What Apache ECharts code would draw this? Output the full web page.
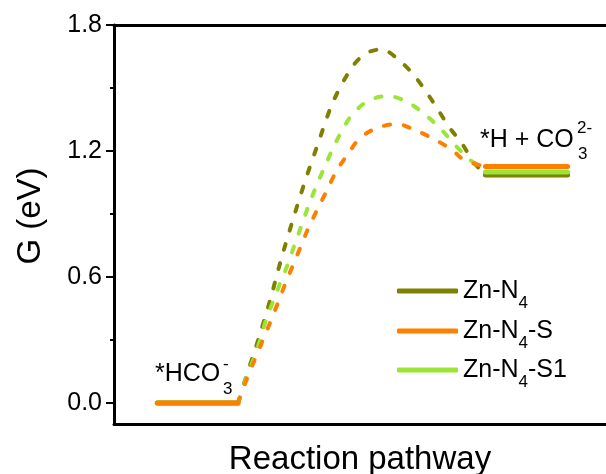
<!DOCTYPE html>
<html>
<head>
<meta charset="utf-8">
<script src="https://cdn.jsdelivr.net/npm/echarts@6/dist/echarts.min.js"></script>
<style>
html,body{margin:0;padding:0;background:#fff;}
#chart{width:606px;height:474px;}
</style>
</head>
<body>
<div id="chart"></div>
<script>
// ---- data ----
const materials = ['Zn-N4', 'Zn-N4-S', 'Zn-N4-S1'];
const materialColors = ['#808000', '#FF8000', '#9BE536'];
const yTickValues = [0.0, 0.6, 1.2, 1.8];
const yMinorTickValues = [0.3, 0.9, 1.5];
// state levels (x extent in reaction-coordinate units 0..100)
const level1X = [8.8, 25.2];   // *HCO3-
const level2X = [75.5, 92.2];  // *H + CO3 2-
const levelStart = [0, 0, 0];
const levelEnd = [1.086, 1.126, 1.100];
// transition curves [x, G]
const curveZnN4 = [[25.2,0],[26.7,0.113],[29.3,0.30],[31.7,0.487],[33.9,0.678],[36.3,0.868],[38.8,1.054],[41.5,1.237],[44.5,1.433],[48.4,1.60],[51.2,1.665],[54.4,1.684],[58.3,1.625],[61.2,1.554],[63.8,1.47],[65.9,1.395],[68.3,1.308],[70.7,1.237],[73.0,1.149],[75.5,1.086]];
const curveZnN4S = [[25.2,0],[27.0,0.114],[28.5,0.2],[30.1,0.29],[31.7,0.381],[33.3,0.476],[34.8,0.567],[36.4,0.657],[38.0,0.748],[39.6,0.838],[41.5,0.929],[43.3,1.014],[45.1,1.10],[47.4,1.181],[50.0,1.262],[53.5,1.31],[57.5,1.329],[61.6,1.295],[65.0,1.257],[68.7,1.205],[71.3,1.155],[75.5,1.126]];
const curveZnN4S1 = [[25.2,0],[26.8,0.113],[28.3,0.205],[29.7,0.30],[30.9,0.395],[32.4,0.487],[33.9,0.578],[35.4,0.665],[36.8,0.76],[38.2,0.851],[39.6,0.943],[41.2,1.038],[42.9,1.129],[44.6,1.218],[46.6,1.308],[48.6,1.38],[52.0,1.443],[55.8,1.462],[59.5,1.435],[62.9,1.38],[66.3,1.308],[69.0,1.237],[72.0,1.165],[75.5,1.10]];
const curves = [curveZnN4, curveZnN4S, curveZnN4S1];
const drawOrder = [0, 2, 1]; // olive, light green, orange on top

const FONT = 'Liberation Sans, Arial, Helvetica, sans-serif';
const chart = echarts.init(document.getElementById('chart'), null, {renderer: 'canvas'});

const series = [];
drawOrder.forEach(i => {
  series.push({
    name: materials[i] + ' curve',
    type: 'line',
    data: curves[i],
    smooth: 0.3,
    showSymbol: false,
    symbol: 'none',
    color: materialColors[i],
    lineStyle: {color: materialColors[i], width: 4, type: [6, 14], cap: 'round'},
    z: 2
  });
  series.push({
    name: materials[i],
    type: 'line',
    data: [[level1X[0], levelStart[i]], [level1X[1], levelStart[i]], [50, '-'], [level2X[0], levelEnd[i]], [level2X[1], levelEnd[i]]],
    showSymbol: false,
    symbol: 'none',
    color: materialColors[i],
    itemStyle: {color: materialColors[i]},
    lineStyle: {color: materialColors[i], width: 5, cap: 'round'},
    z: 3
  });
});

const legendTops = [278.5, 318.5, 357.5];
const legends = materials.map((m, k) => ({
  data: [m],
  orient: 'vertical',
  left: 397,
  top: legendTops[k],
  padding: 0,
  icon: 'roundRect',
  itemWidth: 61,
  itemHeight: 5,
  selectedMode: false,
  formatter: name => name.replace('N4', 'N{sub|4}'),
  textStyle: {
    fontFamily: FONT, fontSize: 25, color: '#000',
    rich: {sub: {fontFamily: FONT, fontSize: 17, color: '#000', padding: [24, 0, 0, 0]}}
  }
}));

function txt(x, y, s, size) {
  return {type: 'text', x: x, y: y, silent: true,
    style: {text: s, x: 0, y: 0, fontFamily: FONT, fontSize: size, fill: '#000', textAlign: 'left', textVerticalAlign: 'middle'}};
}

const option = {
  animation: false,
  backgroundColor: '#fff',
  grid: {left: 114, top: 25, right: 0, bottom: 50, containLabel: false, outerBoundsMode: 'none'},
  legend: legends,
  xAxis: [{
    type: 'value', min: 0, max: 100, position: 'bottom',
    name: 'Reaction pathway', nameLocation: 'middle', nameGap: 19,
    nameTextStyle: {fontFamily: FONT, fontSize: 33, color: '#000'},
    axisLine: {show: true, onZero: false, lineStyle: {color: '#000', width: 3}},
    axisTick: {show: false}, axisLabel: {show: false}, splitLine: {show: false}
  }, {
    type: 'value', min: 0, max: 100, position: 'top',
    axisLine: {show: true, onZero: false, lineStyle: {color: '#000', width: 3}},
    axisTick: {show: false}, axisLabel: {show: false}, splitLine: {show: false}
  }],
  yAxis: [{
    type: 'value', min: -0.1, max: 1.8, position: 'left',
    name: 'G (eV)', nameLocation: 'middle', nameGap: 67, nameRotate: 90,
    nameTextStyle: {fontFamily: FONT, fontSize: 33, color: '#000', padding: [0, 0, 0, 17]},
    axisLine: {show: true, onZero: false, lineStyle: {color: '#000', width: 3}},
    axisTick: {show: true, inside: false, length: 8, lineStyle: {color: '#000', width: 2}, customValues: yTickValues},
    axisLabel: {show: true, margin: 12, fontFamily: FONT, fontSize: 25, color: '#000',
      customValues: yTickValues, formatter: v => v.toFixed(1)},
    splitLine: {show: false}
  }, {
    type: 'value', min: -0.1, max: 1.8, position: 'left',
    axisLine: {show: false, onZero: false},
    axisTick: {show: true, inside: false, length: 4, lineStyle: {color: '#000', width: 2}, customValues: yMinorTickValues},
    axisLabel: {show: false}, splitLine: {show: false}
  }],
  series: series,
  graphic: [
    txt(155, 374, '*HCO', 25),
    txt(223, 389, '3', 17),
    txt(223, 364, '-', 17),
    txt(480, 140, '*H + CO', 25),
    txt(578, 154, '3', 17),
    txt(577, 128, '2-', 17)
  ]
};
chart.setOption(option);
</script>
</body>
</html>
